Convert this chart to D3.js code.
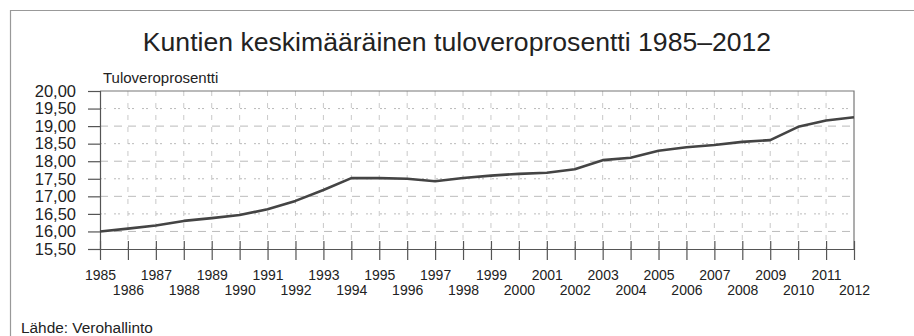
<!DOCTYPE html>
<html><head><meta charset="utf-8">
<script src="https://cdn.jsdelivr.net/npm/d3@7"></script>
<style>body{margin:0;background:#fff}svg{display:block;font-family:"Liberation Sans",Arial,sans-serif}</style>
</head><body><svg id="c" width="914" height="336"></svg>
<script>
const years = d3.range(1985, 2013);
const values = [16.00,16.08,16.17,16.30,16.38,16.47,16.63,16.87,17.18,17.52,17.52,17.50,17.43,17.52,17.59,17.64,17.67,17.77,18.03,18.10,18.30,18.40,18.46,18.55,18.60,18.98,19.16,19.25];
const yTicks = [15.5,16,16.5,17,17.5,18,18.5,19,19.5,20];
const title = "Kuntien keskimääräinen tuloveroprosentti 1985–2012";
const yLabel = "Tuloveroprosentti";
const source = "Lähde: Verohallinto";

const svg = d3.select("#c");
const L=100,R=854,T=91,B=249;
const x = d3.scaleLinear().domain([1985,2012]).range([L,R]);
const y = d3.scaleLinear().domain([15.5,20]).range([B,T]);
const fmt = v => v.toFixed(2).replace(".", ",");

// outer frame
svg.append("path").attr("d","M10.5,336V10.5H914").attr("fill","none").attr("stroke","#999").attr("stroke-width",1.2);

svg.append("text").attr("x",457).attr("y",51).attr("text-anchor","middle")
  .attr("font-size",26.6).attr("fill","#222").text(title);

// grid
const g = svg.append("g");
g.selectAll(".hg").data(yTicks.filter(v=>v>15.5 && v<20)).join("line")
  .attr("x1",L).attr("x2",R).attr("y1",d=>y(d)).attr("y2",d=>y(d))
  .attr("stroke","#aaa").attr("stroke-width",0.8).attr("stroke-dasharray",(d,i)=>i%2? "2,2,2,8":"8,6");
g.selectAll(".vg").data(years.slice(1,-1)).join("line")
  .attr("x1",d=>x(d)).attr("x2",d=>x(d)).attr("y1",T).attr("y2",B)
  .attr("stroke","#bbb").attr("stroke-width",0.8).attr("stroke-dasharray","5,7");

// plot border (top/right)
svg.append("path").attr("d",`M${L},${T}H${R}V${B}`).attr("fill","none").attr("stroke","#777").attr("stroke-width",1.2);

// y axis
const ya = svg.append("g").attr("transform",`translate(${L},0)`)
  .call(d3.axisLeft(y).tickValues(yTicks).tickFormat(fmt).tickSize(12).tickPadding(12));
ya.select(".domain").attr("stroke","#555").attr("stroke-width",1.2);
ya.selectAll(".tick line").attr("stroke","#555").attr("stroke-width",1.2);
ya.selectAll("text").attr("font-size",16.5).attr("fill","#222").attr("font-family","Liberation Sans, Arial, sans-serif");

// x axis
const xa = svg.append("g").attr("transform",`translate(0,${B})`)
  .call(d3.axisBottom(x).tickValues(years).tickFormat(d3.format("d")).tickSize(11).tickSizeOuter(0).tickPadding(3));
xa.select(".domain").attr("stroke","#555").attr("stroke-width",1.2);
xa.selectAll(".tick line").attr("stroke","#555").attr("stroke-width",1.2).attr("y1",-8);
xa.selectAll("text").attr("font-size",14).attr("fill","#222").attr("font-family","Liberation Sans, Arial, sans-serif")
  .attr("dy",null).attr("y",(d,i)=> i%2 ? 46 : 31);

svg.append("text").attr("x",103).attr("y",83).attr("font-size",15).attr("fill","#222").text(yLabel);

// line
svg.append("path").datum(values).attr("fill","none").attr("stroke","#444").attr("stroke-width",2.6)
  .attr("stroke-linejoin","round")
  .attr("d", d3.line().x((d,i)=>x(years[i])).y(d=>y(d)));

svg.append("text").attr("x",21).attr("y",333).attr("font-size",15.4).attr("fill","#222").text(source);
</script></body></html>
